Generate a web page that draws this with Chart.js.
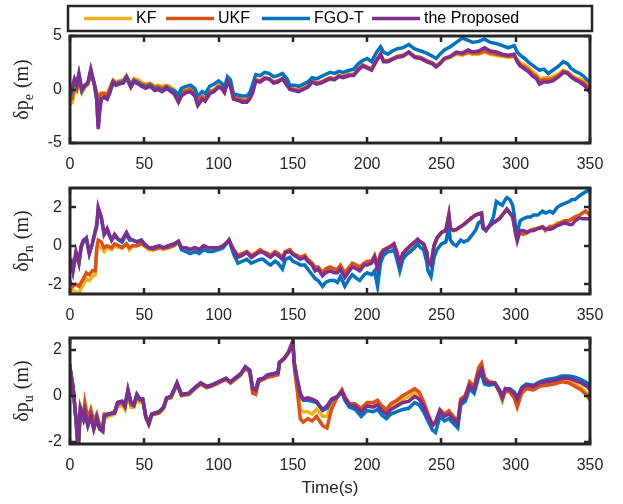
<!DOCTYPE html>
<html>
<head>
<meta charset="utf-8">
<script src="https://cdn.jsdelivr.net/npm/chart.js@4/dist/chart.umd.min.js"></script>
<style>
  body { margin: 0; background: #fff; }
  #wrap { position: relative; width: 623px; height: 504px; }
  #wrap canvas { position: absolute; left: 0; top: 0; }
</style>
</head>
<body>
<div id="wrap">
  <canvas id="chartE" width="623" height="504"></canvas>
  <canvas id="chartN" width="623" height="504"></canvas>
  <canvas id="chartU" width="623" height="504"></canvas>
</div>
<script>
// East error (m)
const timeE = [0,1.5,3,4.5,6,8,10,12,14,16.5, 18,19,20,21,23,25,27,29,31,33, 36,38,40,41,43,46,48,51,54,57,
  59,62,65,67,70,73,75,78,81,84, 86,89,91,94,97,100,102,104,106,108, 110,113,116,119,121,123,125,128,131,134,
  137,140,143,146,148,151,154,157,160,163, 166,169,172,175,178,181,184,188,191,194, 197,200,203,206,209,211,214,217,220,224,
  228,232,236,240,244,246.5,249,252,256,260, 264,268,271,275,279,283,287,291,295,299, 301,303,306,309,311,314,316,319,322,325,
  329,332,335,337,340,343,346,348,350];
const kfE = [-1.4,-1.2,0.0,-0.2,0.6,-0.3,0.2,0.5,1.5,0.5, -0.3,-0.6,-0.5,-0.3,-0.3,-0.4,0.2,0.9,0.7,0.8,
  0.9,1.3,0.8,0.5,1.0,0.9,0.7,0.5,0.6,0.3, 0.4,0.3,0.4,0.3,0.0,-0.5,-0.2,0.0,0.1,-0.3,
  -1.0,-0.6,-0.8,-0.2,0.0,0.4,0.3,-0.1,0.8,0.4, -0.6,-0.8,-1.0,-1.0,-0.7,-0.1,0.9,0.8,1.1,1.0,
  0.7,0.8,1.0,0.5,0.1,0.0,-0.1,0.1,0.3,0.8, 0.6,0.7,0.9,1.1,1.0,1.3,1.2,1.4,1.4,1.9,
  2.2,2.1,1.9,2.7,3.2,2.7,2.6,2.8,3.0,3.1, 3.4,3.0,2.9,2.6,2.4,2.2,2.4,2.8,3.0,3.3,
  3.2,3.4,3.3,3.3,3.5,3.3,3.2,3.1,3.0,3.1, 2.8,2.5,2.3,2.0,1.7,1.4,1.0,1.1,1.1,1.2,
  1.5,1.8,1.6,1.4,1.1,1.0,0.8,0.5,0.2];
const ukfE = [-1.0,-0.8,0.3,0.0,0.9,-0.1,0.3,0.5,1.6,0.4, -0.4,-0.8,-0.6,-0.4,-0.4,-0.5,0.1,0.8,0.6,0.7,
  0.8,1.2,0.7,0.4,0.9,0.7,0.5,0.4,0.5,0.2, 0.3,0.1,0.3,0.1,-0.1,-0.6,-0.3,-0.1,0.0,-0.4,
  -1.1,-0.7,-0.9,-0.2,-0.1,0.3,0.2,-0.2,0.8,0.4, -0.7,-0.8,-1.0,-1.0,-0.7,-0.2,0.9,0.8,1.1,1.0,
  0.7,0.8,1.0,0.5,0.1,0.0,-0.1,0.1,0.3,0.8, 0.6,0.7,0.9,1.1,1.0,1.3,1.2,1.4,1.4,1.9,
  2.3,2.1,1.9,2.7,3.3,2.7,2.7,2.9,3.1,3.2, 3.5,3.1,3.0,2.7,2.5,2.2,2.5,2.9,3.1,3.4,
  3.3,3.5,3.4,3.4,3.6,3.4,3.3,3.2,3.1,3.1, 2.7,2.3,2.1,1.8,1.5,1.2,0.8,0.9,0.9,1.0,
  1.3,1.7,1.6,1.3,1.0,0.8,0.6,0.3,0.0];
const fgoE = [-0.6,0.0,0.8,0.4,1.4,-0.1,0.4,0.6,1.8,0.4, -0.9,-3.5,-1.9,-0.9,-0.7,-0.9,-0.2,0.7,0.4,0.6,
  0.7,1.2,0.6,0.3,0.8,0.6,0.4,0.2,0.4,0.0, 0.1,-0.1,0.2,0.0,-0.1,-0.5,0.1,0.3,0.4,0.1,
  -0.6,-0.2,-0.4,0.3,0.5,0.8,0.6,0.2,1.2,0.9, -0.4,-0.5,-0.6,-0.6,-0.3,0.5,1.4,1.3,1.6,1.5,
  1.2,1.3,1.5,1.0,0.4,0.4,0.3,0.5,0.7,1.1, 1.0,1.2,1.4,1.6,1.5,1.7,1.6,1.8,1.9,2.4,
  2.7,2.9,2.6,3.4,4.0,3.5,3.3,3.6,3.8,3.9, 4.2,3.8,3.6,3.4,3.1,2.9,3.3,3.7,4.0,4.4,
  4.8,4.6,4.4,4.5,4.7,4.4,4.3,4.1,3.9,4.1, 3.5,3.2,2.9,2.5,2.3,2.0,1.8,1.9,1.5,1.8,
  2.2,2.6,2.4,2.0,1.7,1.5,1.2,0.9,0.7];
const propE = [-0.4,0.2,1.0,0.5,1.5,0.0,0.4,0.6,1.9,0.4, -1.0,-3.7,-2.0,-0.9,-0.7,-0.9,-0.2,0.7,0.4,0.5,
  0.6,1.1,0.5,0.2,0.7,0.5,0.3,0.1,0.3,-0.1, 0.0,-0.2,0.1,-0.1,-0.4,-1.2,-0.6,-0.3,-0.2,-0.6,
  -1.5,-0.9,-1.1,-0.4,-0.2,0.2,0.1,-0.3,0.7,0.3, -0.9,-1.0,-1.2,-1.2,-0.9,-0.3,0.8,0.7,1.0,1.0,
  0.6,0.7,1.0,0.4,0.0,-0.1,-0.2,0.0,0.2,0.7, 0.5,0.6,0.8,1.0,0.9,1.2,1.1,1.3,1.3,1.8,
  2.2,2.0,1.8,2.6,3.3,2.6,2.6,2.8,3.0,3.1, 3.5,3.0,2.9,2.6,2.4,2.1,2.4,2.9,3.1,3.5,
  3.4,3.7,3.5,3.6,3.9,3.6,3.5,3.3,3.2,3.3, 2.6,2.2,1.9,1.6,1.3,1.0,0.5,0.7,0.7,0.8,
  1.2,1.6,1.5,1.2,0.9,0.7,0.4,0.1,-0.3];

// North error (m)
const timeN = [0,1,2,4,6,7.5,9,11,13,15, 17,18,19,21,23,25,28,30,33,35, 38,40,42,45,48,50,53,56,60,63,
  66,70,73,75,78,81,84,87,90,93, 96,100,103,105,107,110,113,116,119,122, 125,128,130,133,135,138,140,143,145,148,
  150,153,155,158,160,163,165,167,170,172, 175,178,180,182,185,188,190,193,195,198, 200,203,205,207,209,211,214,216,218,220,
  222,224,226,229,232,234,236,238,240,241, 243,245,247,250,253,255,256,258,260,263, 265,268,270,273,275,277,278,280,282,285,
  287,289,291,293,294,296,298,299,300,301, 303,305,308,310,312,315,318,320,323,325, 328,330,333,336,338,340,343,345,347,350];
const kfN = [-2.2,-2.4,-2.3,-2.4,-2.5,-2.2,-2.0,-1.7,-1.8,-1.6, -1.5,-0.3,0.0,-0.1,-0.3,-0.1,-0.2,0.0,-0.1,-0.1,
  0.1,-0.2,0.0,0.0,0.1,0.0,-0.2,-0.2,-0.1,-0.2, -0.1,0.0,0.2,-0.1,-0.1,-0.2,-0.1,-0.2,0.0,-0.1,
  -0.1,-0.1,0.0,0.1,0.3,-0.2,-0.5,-0.4,-0.3,-0.5, -0.35,-0.2,-0.3,-0.4,-0.5,-0.3,-0.4,-0.6,-0.3,-0.2,
  -0.4,-0.5,-0.6,-0.5,-0.7,-0.9,-1.2,-1.1,-1.4,-1.3, -1.2,-1.3,-1.3,-1.1,-1.5,-1.2,-1.0,-1.1,-1.2,-0.9,
  -0.9,-0.8,-0.6,-1.1,-0.5,-0.3,-0.1,-0.1,0.0,-0.4, -0.9,-0.4,-0.3,-0.1,0.1,0.3,0.2,0.1,-0.3,-0.8,
  -1.0,0.0,0.4,0.7,0.8,1.6,0.9,0.8,0.8,1.0, 1.1,1.3,1.4,1.6,1.65,1.7,1.0,0.8,1.0,1.2,
  1.3,1.4,1.6,1.8,1.9,1.7,1.5,1.1,0.7,0.5, 0.7,0.6,0.7,0.8,0.9,0.9,1.0,0.8,1.0,1.0,
  1.2,1.2,1.3,1.3,1.4,1.5,1.6,1.7,1.8,1.6];
const ukfN = [-1.8,-2.0,-2.1,-2.0,-2.1,-1.9,-1.7,-1.4,-1.5,-1.3, -1.3,-0.1,0.3,0.2,-0.1,0.0,-0.1,0.1,0.0,-0.1,
  0.1,-0.1,0.0,0.0,0.1,0.0,-0.1,-0.2,-0.1,-0.1, -0.1,0.0,0.2,-0.1,-0.1,-0.2,-0.1,-0.2,0.0,-0.1,
  -0.1,-0.1,0.0,0.1,0.3,-0.2,-0.5,-0.4,-0.3,-0.5, -0.4,-0.2,-0.3,-0.4,-0.5,-0.3,-0.4,-0.6,-0.3,-0.2,
  -0.4,-0.5,-0.6,-0.5,-0.7,-0.9,-1.1,-1.1,-1.4,-1.2, -1.1,-1.2,-1.2,-1.0,-1.4,-1.1,-0.9,-1.0,-1.1,-0.9,
  -0.8,-0.8,-0.5,-1.0,-0.4,-0.2,-0.1,0.0,0.1,-0.3, -0.9,-0.4,-0.2,0.0,0.2,0.3,0.2,0.1,-0.3,-0.8,
  -1.0,0.0,0.4,0.7,0.8,1.6,0.9,0.8,0.85,1.0, 1.1,1.3,1.4,1.6,1.65,1.7,1.0,0.8,1.0,1.2,
  1.3,1.4,1.6,1.8,1.9,1.7,1.5,1.1,0.6,0.4, 0.7,0.6,0.7,0.8,0.8,0.9,1.0,0.8,1.0,1.0,
  1.1,1.2,1.3,1.3,1.4,1.5,1.6,1.7,1.8,1.6];
const fgoN = [-1.0,-0.9,-1.3,-0.4,-0.9,-0.1,0.2,0.4,-0.4,0.1, 0.7,1.0,1.9,1.5,0.6,0.8,0.3,0.5,0.3,0.2,
  0.6,0.3,0.3,0.2,0.3,0.1,-0.1,-0.1,0.0,-0.1, 0.0,0.1,0.2,-0.2,-0.3,-0.4,-0.3,-0.4,-0.2,-0.3,
  -0.3,-0.2,-0.1,0.1,0.3,-0.4,-0.9,-0.8,-0.7,-0.9, -0.8,-0.7,-0.7,-0.9,-1.0,-0.8,-0.9,-1.2,-0.7,-0.6,
  -0.8,-0.9,-1.0,-1.0,-1.2,-1.5,-1.7,-1.8,-2.1,-1.9, -1.8,-1.8,-1.9,-1.6,-2.1,-1.7,-1.5,-1.7,-1.8,-1.5,
  -1.4,-1.5,-1.3,-2.1,-0.9,-0.5,-0.3,-0.3,-0.2,-0.7, -1.3,-0.7,-0.5,-0.3,-0.1,0.1,-0.1,-0.2,-0.8,-1.3,
  -1.6,-0.6,-0.2,0.1,0.2,1.0,0.3,0.1,0.0,0.3, 0.2,0.3,0.5,0.8,1.2,1.3,0.9,0.8,1.0,1.5,
  2.3,2.2,2.1,2.4,2.5,2.4,2.1,1.6,0.9,0.7, 1.3,1.4,1.5,1.5,1.6,1.6,1.8,1.7,1.8,1.7,
  2.0,2.1,2.2,2.3,2.4,2.4,2.6,2.7,2.8,2.9];
const propN = [-1.1,-0.9,-1.3,-0.3,-0.9,0.0,0.3,0.4,-0.4,0.1, 0.8,1.1,2.0,1.5,0.6,0.9,0.3,0.6,0.3,0.3,
  0.7,0.4,0.3,0.2,0.3,0.1,-0.1,-0.1,0.0,-0.1, 0.0,0.1,0.25,-0.1,-0.1,-0.2,-0.1,-0.2,0.0,-0.1,
  -0.1,-0.1,0.0,0.15,0.3,-0.2,-0.6,-0.5,-0.35,-0.6, -0.45,-0.3,-0.35,-0.5,-0.6,-0.4,-0.5,-0.7,-0.35,-0.3,
  -0.45,-0.6,-0.7,-0.6,-0.8,-1.0,-1.3,-1.2,-1.55,-1.4, -1.3,-1.4,-1.4,-1.2,-1.65,-1.3,-1.1,-1.2,-1.3,-1.0,
  -1.0,-0.9,-0.6,-1.2,-0.5,-0.25,-0.1,-0.05,0.1,-0.4, -0.95,-0.4,-0.25,0.0,0.2,0.35,0.2,0.1,-0.3,-0.8,
  -1.0,0.0,0.4,0.7,0.8,1.6,0.9,0.8,0.85,1.0, 1.1,1.3,1.45,1.6,1.65,1.7,0.95,0.8,1.0,1.2,
  1.3,1.4,1.6,1.8,1.9,1.7,1.5,1.05,0.6,0.25, 0.8,0.8,0.7,0.8,0.8,0.9,0.95,0.9,0.85,0.9,
  1.05,1.1,1.2,1.1,1.1,1.3,1.45,1.4,1.4,1.4];

// Up error (m)
const timeU = [0,1,2,4,5.5,7,9,10,12,14, 16,18,20,22,23,26,30,32,35,37, 39,41,43,45,47,49,51,53,55,60,
  63,65,68,70,72,75,80,85,88,92, 95,100,105,108,112,115,118,121,123,125, 127,130,133,137,140,141,144,147,150,151,
  153,155,157,160,163,166,170,173,176,180, 183,185,188,192,196,200,204,207,210,213, 216,220,224,228,232,235,238,241,244,246,
  249,252,255,258,261,263,266,269,272,275, 277,279,282,286,289,291,293,296,299,301, 304,307,312,316,321,326,331,336,340,344,
  348,350];
const kfU = [0.0,0.8,0.4,-1.0,-2.3,-0.6,-1.0,-0.5,-1.2,-0.8, -1.3,-1.0,-1.4,-1.5,-1.0,-0.9,-0.8,-0.5,-0.4,-0.6,
  0.1,-0.5,-0.5,-0.1,-0.3,-0.25,-0.95,-1.25,-0.85,-0.75, -0.55,-0.15,-0.1,0.2,0.5,0.0,0.05,0.35,0.5,0.35,
  0.4,0.55,0.7,0.55,0.75,0.9,1.2,1.05,0.2,0.15, 0.65,0.7,0.85,0.9,0.95,1.4,1.6,1.9,2.35,1.3,
  0.4,-0.6,-0.7,-0.7,-0.8,-0.6,-0.9,-0.9,-0.4,-0.05, 0.25,-0.05,-0.35,-0.4,-0.6,-0.35,-0.4,-0.3,-0.55,-0.7,
  -0.5,-0.35,-0.15,-0.05,0.15,0.0,-0.35,-0.85,-1.3,-1.2, -0.7,-0.9,-0.75,-1.0,-1.2,-0.2,-0.05,0.5,0.3,1.0,
  1.2,0.7,0.6,0.55,0.2,-0.1,0.25,0.2,0.0,-0.3, 0.2,0.35,0.3,0.45,0.5,0.55,0.65,0.6,0.5,0.35,
  0.1,0.0];
const ukfU = [0.0,0.8,0.4,-1.0,-2.3,-0.5,-0.9,-0.3,-1.0,-0.6, -1.1,-0.8,-1.3,-1.4,-0.8,-0.8,-0.7,-0.4,-0.3,-0.5,
  0.15,-0.4,-0.45,-0.05,-0.2,-0.2,-0.95,-1.25,-0.85,-0.75, -0.55,-0.15,-0.08,0.2,0.5,0.0,0.05,0.35,0.5,0.35,
  0.4,0.55,0.7,0.55,0.75,0.9,1.2,1.0,0.1,0.05, 0.6,0.7,0.8,0.85,0.9,1.4,1.6,1.9,2.4,1.2,
  0.2,-1.0,-1.15,-1.0,-1.1,-0.9,-1.3,-1.4,-0.6,-0.05, 0.25,-0.05,-0.35,-0.35,-0.55,-0.3,-0.3,-0.2,-0.45,-0.6,
  -0.35,-0.2,0.0,0.15,0.3,0.15,-0.25,-0.8,-1.25,-1.15, -0.6,-0.8,-0.65,-0.9,-1.1,-0.15,0.0,0.6,0.4,1.2,
  1.4,0.8,0.6,0.55,0.15,-0.2,0.2,0.15,-0.1,-0.5, 0.1,0.3,0.25,0.4,0.45,0.5,0.6,0.55,0.4,0.25,
  0.0,-0.2];
const fgoU = [0.0,0.8,0.4,-1.0,-2.3,-0.6,-1.0,-0.7,-1.3,-0.9, -1.45,-1.0,-1.45,-1.55,-0.9,-0.8,-0.75,-0.3,-0.25,-0.45,
  0.25,-0.3,-0.4,0.05,-0.15,-0.15,-0.9,-1.2,-0.8,-0.7, -0.5,-0.1,-0.03,0.25,0.55,0.05,0.1,0.4,0.55,0.4,
  0.45,0.6,0.75,0.6,0.8,0.95,1.25,1.1,0.3,0.25, 0.7,0.75,0.9,0.95,1.0,1.45,1.6,1.85,2.3,1.4,
  0.7,0.0,-0.2,-0.2,-0.25,-0.3,-0.65,-0.55,-0.2,-0.05, 0.15,-0.2,-0.5,-0.6,-0.9,-0.65,-0.7,-0.6,-0.85,-1.0,
  -0.8,-0.7,-0.6,-0.55,-0.3,-0.4,-0.7,-1.1,-1.5,-1.6, -0.9,-1.1,-1.0,-1.2,-1.4,-0.4,-0.25,0.3,0.1,0.8,
  0.95,0.5,0.45,0.5,0.25,-0.05,0.3,0.3,0.15,-0.1, 0.35,0.5,0.45,0.6,0.7,0.75,0.85,0.85,0.8,0.7,
  0.55,0.4];
const propU = [0.0,0.8,0.4,-1.0,-2.3,-0.6,-1.0,-0.7,-1.3,-0.9, -1.45,-1.0,-1.45,-1.55,-0.9,-0.8,-0.75,-0.3,-0.25,-0.45,
  0.25,-0.3,-0.4,0.05,-0.15,-0.15,-0.9,-1.2,-0.8,-0.7, -0.5,-0.1,-0.03,0.25,0.55,0.05,0.1,0.4,0.55,0.4,
  0.45,0.6,0.75,0.6,0.8,0.95,1.25,1.1,0.3,0.25, 0.7,0.75,0.9,0.95,1.0,1.45,1.6,1.85,2.3,1.4,
  0.7,0.1,-0.15,-0.1,-0.15,-0.25,-0.6,-0.45,-0.15,-0.03, 0.2,-0.1,-0.4,-0.45,-0.7,-0.45,-0.5,-0.4,-0.65,-0.8,
  -0.6,-0.45,-0.3,-0.25,-0.03,-0.15,-0.45,-0.9,-1.3,-1.15, -0.65,-0.9,-0.8,-1.0,-1.2,-0.25,-0.1,0.45,0.25,0.95,
  1.15,0.65,0.55,0.55,0.25,-0.03,0.3,0.25,0.1,-0.15, 0.3,0.45,0.4,0.55,0.6,0.65,0.75,0.75,0.65,0.55,
  0.4,0.25];

const xTicks = [0, 50, 100, 150, 200, 250, 300, 350];
const seriesNames = ["KF", "UKF", "FGO-T", "the Proposed"];
const seriesColors = ["#EDB120", "#D95319", "#0072BD", "#7E2F8E"];

const axisColor = "#262626";
const sansFont = "'Liberation Sans', Arial, sans-serif";
const serifFont = "'Liberation Serif', 'Times New Roman', serif";

function points(t, v) {
  return t.map((x, i) => ({ x: x, y: v[i] }));
}

// box around the plot area with matlab-style inward ticks
const axesBox = {
  id: "axesBox",
  afterDatasetsDraw(chart) {
    const { ctx, chartArea: a, scales } = chart;
    ctx.save();
    ctx.strokeStyle = axisColor;
    ctx.lineWidth = 2.5;
    ctx.beginPath();
    scales.x.ticks.forEach(tk => {
      const px = Math.round(scales.x.getPixelForValue(tk.value));
      ctx.moveTo(px, a.bottom); ctx.lineTo(px, a.bottom - 6);
      ctx.moveTo(px, a.top); ctx.lineTo(px, a.top + 6);
    });
    scales.y.ticks.forEach(tk => {
      const py = Math.round(scales.y.getPixelForValue(tk.value));
      ctx.moveTo(a.left, py); ctx.lineTo(a.left + 6, py);
      ctx.moveTo(a.right, py); ctx.lineTo(a.right - 6, py);
    });
    ctx.stroke();
    ctx.lineWidth = 3;
    ctx.strokeRect(a.left, a.top, a.right - a.left, a.bottom - a.top);
    ctx.restore();
  }
};

// rotated "δp_x (m)" label with a subscript
const yTitle = {
  id: "yTitle",
  afterDraw(chart, args, opts) {
    const { ctx, chartArea: a } = chart;
    const big = "20px " + serifFont;
    const small = "14px " + serifFont;
    ctx.save();
    ctx.translate(23, (a.top + a.bottom) / 2);
    ctx.rotate(-Math.PI / 2);
    ctx.font = big;
    const w1 = ctx.measureText("δp").width;
    const w3 = ctx.measureText(" (m)").width;
    ctx.font = small;
    const w2 = ctx.measureText(opts.sub).width + 1;
    let x = -(w1 + w2 + w3) / 2;
    ctx.fillStyle = axisColor;
    ctx.textAlign = "left";
    ctx.textBaseline = "middle";
    ctx.font = big;
    ctx.fillText("δp", x, 0);
    x += w1;
    ctx.font = small;
    ctx.fillText(opts.sub, x, 6);
    x += w2;
    ctx.font = big;
    ctx.fillText(" (m)", x, 0);
    ctx.restore();
  }
};

const legendBox = {
  id: "legendBox",
  afterDraw(chart) {
    const ctx = chart.ctx;
    const lineX = [84, 166, 262, 372];
    ctx.save();
    ctx.fillStyle = "#fff";
    ctx.fillRect(68, 6, 524, 25);
    ctx.strokeStyle = axisColor;
    ctx.lineWidth = 2.5;
    ctx.strokeRect(68, 6, 524, 25);
    ctx.font = "16px " + sansFont;
    ctx.textBaseline = "middle";
    ctx.textAlign = "left";
    seriesNames.forEach((name, i) => {
      ctx.strokeStyle = seriesColors[i];
      ctx.lineWidth = 3.5;
      ctx.beginPath();
      ctx.moveTo(lineX[i], 18.5);
      ctx.lineTo(lineX[i] + 48, 18.5);
      ctx.stroke();
      ctx.fillStyle = "#000";
      ctx.fillText(name, lineX[i] + 52, 19);
    });
    ctx.restore();
  }
};

const timeTitle = {
  id: "timeTitle",
  afterDraw(chart) {
    const { ctx, chartArea: a } = chart;
    ctx.save();
    ctx.fillStyle = axisColor;
    ctx.font = "17px " + sansFont;
    ctx.textAlign = "center";
    ctx.textBaseline = "middle";
    ctx.fillText("Time(s)", (a.left + a.right) / 2, 488);
    ctx.restore();
  }
};

function makeChart(id, t, values, yMin, yMax, yTicks, top, bottom, sub, extra) {
  const datasets = values.map((v, i) => ({
    label: seriesNames[i],
    data: points(t, v),
    borderColor: seriesColors[i],
    borderWidth: 3.5,
    pointRadius: 0,
    tension: 0,
    clip: 0,
    order: 4 - i
  }));
  const tickStyle = { color: axisColor, font: { family: sansFont, size: 16 } };
  return new Chart(document.getElementById(id), {
    type: "line",
    data: { datasets: datasets },
    options: {
      responsive: false,
      animation: false,
      events: [],
      layout: { padding: { left: 0, right: 33, top: top, bottom: 504 - bottom - 50 } },
      scales: {
        x: {
          type: "linear",
          min: 0,
          max: 350,
          grid: { display: false, drawTicks: false },
          border: { display: false },
          ticks: Object.assign({ padding: 12, maxRotation: 0, autoSkip: false }, tickStyle),
          afterBuildTicks: s => { s.ticks = xTicks.map(v => ({ value: v })); },
          afterFit: s => { s.height = 50; }
        },
        y: {
          min: yMin,
          max: yMax,
          grid: { display: false, drawTicks: false },
          border: { display: false },
          ticks: Object.assign({ padding: 8 }, tickStyle),
          afterBuildTicks: s => { s.ticks = yTicks.map(v => ({ value: v })); },
          afterFit: s => { s.width = 70; }
        }
      },
      plugins: {
        legend: { display: false },
        tooltip: { enabled: false },
        yTitle: { sub: sub }
      }
    },
    plugins: [axesBox, yTitle].concat(extra)
  });
}

makeChart("chartE", timeE, [kfE, ukfE, fgoE, propE], -5, 5, [-5, 0, 5], 36, 143, "e", [legendBox]);
makeChart("chartN", timeN, [kfN, ukfN, fgoN, propN], -2.5, 3, [-2, 0, 2], 188, 294, "n", []);
makeChart("chartU", timeU, [kfU, ukfU, fgoU, propU], -2.1, 2.5, [-2, 0, 2], 338, 444, "u", [timeTitle]);
</script>
</body>
</html>
